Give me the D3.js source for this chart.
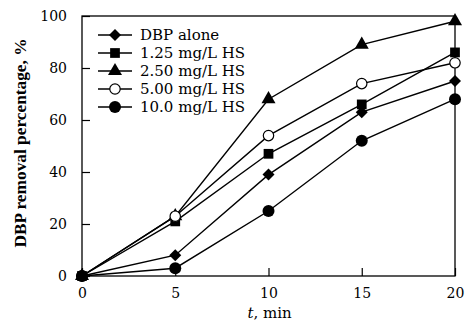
<!DOCTYPE html>
<html>
<head>
<meta charset="utf-8">
<script src="https://cdn.jsdelivr.net/npm/d3@7"></script>
<style>
  html, body { margin: 0; padding: 0; background: #fff; }
  svg { display: block; }
</style>
</head>
<body>
<svg id="chart" width="466" height="326"></svg>
<script>
// Time points (min)
const times = [0, 5, 10, 15, 20];

// DBP removal percentage for each condition
const dbpAlone = [0, 8, 39, 63, 75];
const hs125 = [0, 21, 47, 66, 86];
const hs250 = [0, 23, 68, 89, 98];
const hs500 = [0, 23, 54, 74, 82];
const hs100 = [0, 3, 25, 52, 68];

const seriesNames = ["DBP alone", "1.25 mg/L HS", "2.50 mg/L HS", "5.00 mg/L HS", "10.0 mg/L HS"];
const seriesSymbols = ["diamond", "square", "triangle", "openCircle", "circle"];

const xTicks = [0, 5, 10, 15, 20];
const yTicks = [0, 20, 40, 60, 80, 100];

const series = [dbpAlone, hs125, hs250, hs500, hs100].map((vals, i) => ({
  name: seriesNames[i],
  symbol: seriesSymbols[i],
  points: vals.map((v, j) => ({ t: times[j], v }))
}));

const margin = { left: 82, right: 11, top: 16, bottom: 50 };
const W = 466, H = 326;
const svg = d3.select("#chart");
const font = "'DejaVu Serif', 'Liberation Serif', serif";
const titleFont = "'Liberation Serif', 'Times New Roman', serif";

const x = d3.scaleLinear().domain([0, 20]).range([margin.left, W - margin.right]);
const y = d3.scaleLinear().domain([0, 100]).range([H - margin.bottom, margin.top]);

// Frame
svg.append("rect")
  .attr("x", x(0)).attr("y", y(100))
  .attr("width", x(20) - x(0)).attr("height", y(0) - y(100))
  .attr("fill", "none").attr("stroke", "#000").attr("stroke-width", 1.3);

// Axes with inward ticks
const xAxis = svg.append("g")
  .attr("transform", `translate(0,${y(0)})`)
  .call(d3.axisBottom(x).tickValues(xTicks).tickSize(-8).tickPadding(12));
const yAxis = svg.append("g")
  .attr("transform", `translate(${x(0)},0)`)
  .call(d3.axisLeft(y).tickValues(yTicks).tickSize(-8).tickPadding(15));

[xAxis, yAxis].forEach(g => {
  g.select(".domain").remove();
  g.selectAll(".tick line").attr("stroke", "#000").attr("stroke-width", 1.2);
  g.selectAll(".tick text")
    .attr("font-family", font).attr("font-size", 14).attr("fill", "#000");
});

// Axis titles
svg.append("text")
  .attr("x", (x(0) + x(20)) / 2 + 1).attr("y", 318)
  .attr("text-anchor", "middle")
  .attr("font-family", font).attr("font-size", 15)
  .html('<tspan font-style="italic">t</tspan>, min');

svg.append("text")
  .attr("transform", `translate(26,${143}) rotate(-90)`)
  .attr("text-anchor", "middle")
  .attr("font-family", titleFont).attr("font-size", 16).attr("font-weight", "bold")
  .attr("textLength", 209).attr("lengthAdjust", "spacingAndGlyphs")
  .text("DBP removal percentage, %");

// Marker drawing
function drawMarker(g, symbol, cx, cy) {
  if (symbol === "diamond") {
    g.append("path").attr("d", "M0,-6L6,0L0,6L-6,0Z").attr("transform", `translate(${cx},${cy})`).attr("fill", "#000");
  } else if (symbol === "square") {
    g.append("path").attr("d", d3.symbol(d3.symbolSquare, 95)()).attr("transform", `translate(${cx},${cy})`).attr("fill", "#000");
  } else if (symbol === "triangle") {
    g.append("path").attr("d", d3.symbol(d3.symbolTriangle, 85)()).attr("transform", `translate(${cx},${cy})`).attr("fill", "#000");
  } else if (symbol === "openCircle") {
    g.append("circle").attr("cx", cx).attr("cy", cy).attr("r", 5.2).attr("fill", "#fff").attr("stroke", "#000").attr("stroke-width", 1.2);
  } else {
    g.append("circle").attr("cx", cx).attr("cy", cy).attr("r", 6).attr("fill", "#000");
  }
}

const line = d3.line().x(d => x(d.t)).y(d => y(d.v));

const plot = svg.append("g");
series.forEach(s => {
  plot.append("path").datum(s.points)
    .attr("d", line).attr("fill", "none").attr("stroke", "#000").attr("stroke-width", 1.4);
});
series.forEach(s => {
  s.points.forEach(p => drawMarker(plot, s.symbol, x(p.t), y(p.v)));
});

// Legend
const legend = svg.append("g");
series.forEach((s, i) => {
  const ly = 35 + i * 18;
  legend.append("line").attr("x1", 98).attr("x2", 132).attr("y1", ly).attr("y2", ly)
    .attr("stroke", "#000").attr("stroke-width", 1.4);
  drawMarker(legend, s.symbol, 115, ly);
  legend.append("text").attr("x", 140).attr("y", ly + 5)
    .attr("font-family", font).attr("font-size", 15).attr("fill", "#000")
    .text(s.name);
});
</script>
</body>
</html>
